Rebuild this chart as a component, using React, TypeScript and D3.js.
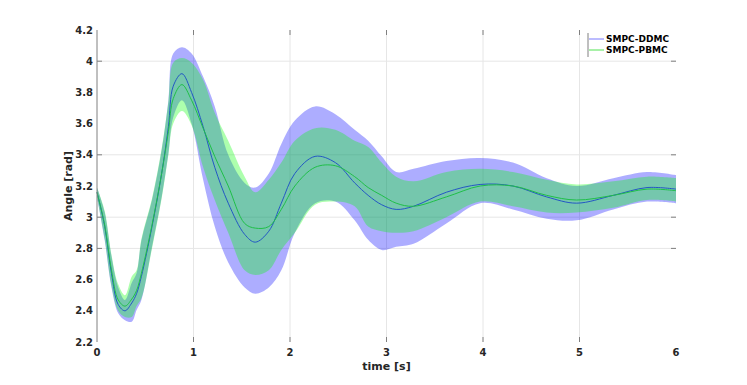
import * as d3 from "d3";

// sample times [s]
const times = [0, 0.08, 0.15, 0.22, 0.29, 0.36, 0.41, 0.46, 0.57, 0.67, 0.74, 0.79, 0.88, 0.98, 1.1, 1.22, 1.36, 1.53, 1.64, 1.78, 1.91, 2.05, 2.26, 2.47, 2.67, 2.81, 2.95, 3.1, 3.28, 3.62, 3.97, 4.31, 4.66, 4.97, 5.35, 5.7, 6.0];

// SMPC-DDMC
const ddmcMean = [3.16, 2.94, 2.64, 2.44, 2.4, 2.45, 2.51, 2.62, 2.94, 3.28, 3.58, 3.84, 3.92, 3.8, 3.58, 3.32, 3.09, 2.89, 2.84, 2.91, 3.09, 3.28, 3.39, 3.35, 3.22, 3.14, 3.08, 3.05, 3.07, 3.16, 3.21, 3.2, 3.13, 3.09, 3.14, 3.19, 3.18];
const ddmcUpper = [3.19, 3.03, 2.75, 2.55, 2.47, 2.58, 2.64, 2.85, 3.11, 3.43, 3.75, 4.05, 4.09, 4.05, 3.9, 3.71, 3.4, 3.22, 3.19, 3.28, 3.47, 3.62, 3.71, 3.66, 3.56, 3.49, 3.39, 3.29, 3.31, 3.36, 3.38, 3.35, 3.25, 3.2, 3.25, 3.29, 3.27];
const ddmcLower = [3.13, 2.85, 2.55, 2.385, 2.34, 2.33, 2.405, 2.47, 2.81, 3.13, 3.41, 3.64, 3.75, 3.6, 3.24, 2.94, 2.71, 2.55, 2.51, 2.55, 2.66, 2.9, 3.09, 3.1, 2.98, 2.855, 2.79, 2.81, 2.83, 2.96, 3.09, 3.05, 2.99, 2.98, 3.05, 3.1, 3.09];

// SMPC-PBMC
const pbmcMean = [3.16, 2.95, 2.66, 2.47, 2.43, 2.475, 2.53, 2.64, 2.95, 3.28, 3.55, 3.76, 3.85, 3.75, 3.57, 3.39, 3.2, 2.96, 2.93, 2.94, 3.05, 3.2, 3.32, 3.33, 3.26, 3.19, 3.14, 3.09, 3.07, 3.13, 3.2, 3.2, 3.14, 3.11, 3.14, 3.18, 3.17];
const pbmcUpper = [3.19, 3.04, 2.76, 2.57, 2.5, 2.62, 2.66, 2.86, 3.12, 3.44, 3.74, 3.99, 4.02, 3.99, 3.88, 3.67, 3.49, 3.26, 3.16, 3.24, 3.35, 3.49, 3.57, 3.56, 3.49, 3.45, 3.35, 3.26, 3.23, 3.29, 3.31, 3.29, 3.24, 3.21, 3.23, 3.26, 3.25];
const pbmcLower = [3.13, 2.86, 2.56, 2.4, 2.36, 2.36, 2.43, 2.48, 2.8, 3.12, 3.4, 3.6, 3.68, 3.59, 3.32, 3.11, 2.9, 2.66, 2.63, 2.66, 2.79, 2.9, 3.08, 3.1, 3.07, 2.94, 2.91, 2.9, 2.91, 3.0, 3.1, 3.07, 3.03, 3.03, 3.06, 3.11, 3.1];

const xTicks = [0, 1, 2, 3, 4, 5, 6];
const yTicks = [2.2, 2.4, 2.6, 2.8, 3, 3.2, 3.4, 3.6, 3.8, 4, 4.2];
const yGrid = [2.8, 3, 3.4, 4];
const legendNames = ["SMPC-DDMC", "SMPC-PBMC"];

const series = [
  { mean: ddmcMean, upper: ddmcUpper, lower: ddmcLower, fill: "#0000ff", line: "#2357c4", legend: "#8f8fff" },
  { mean: pbmcMean, upper: pbmcUpper, lower: pbmcLower, fill: "#00ff00", line: "#1fbf48", legend: "#6ee86e" },
];

export default function App() {
  const width = 747;
  const height = 385;
  const left = 97;
  const right = 676;
  const top = 30;
  const bottom = 342;
  const textColor = "#262626";
  const font = "DejaVu Sans, sans-serif";

  const x = d3.scaleLinear().domain([0, 6]).range([left, right]);
  const y = d3.scaleLinear().domain([2.2, 4.2]).range([bottom, top]);
  const curve = d3.curveCatmullRom.alpha(0.5);

  const band = (s) =>
    d3
      .area<number>()
      .x((_, i) => x(times[i]))
      .y0((_, i) => y(s.lower[i]))
      .y1((_, i) => y(s.upper[i]))
      .curve(curve)(s.mean);
  const meanLine = (s) =>
    d3
      .line<number>()
      .x((_, i) => x(times[i]))
      .y((d) => y(d))
      .curve(curve)(s.mean);

  return (
    <svg
      width={width}
      height={height}
      style={{ position: "absolute", left: 0, top: 0, background: "#fff" }}
      fontFamily={font}
    >
      {/* grid */}
      <g stroke="#e6e6e6" strokeWidth={1}>
        {xTicks.slice(1, -1).map((t) => (
          <line key={"gx" + t} x1={x(t)} x2={x(t)} y1={top} y2={bottom} />
        ))}
        {yGrid.map((v) => (
          <line key={"gy" + v} x1={left} x2={right} y1={y(v)} y2={y(v)} />
        ))}
      </g>

      {/* bands */}
      {series.map((s, i) => (
        <path key={"b" + i} d={band(s)} fill={s.fill} fillOpacity={0.32} stroke="none" />
      ))}
      {series.map((s, i) => (
        <path key={"m" + i} d={meanLine(s)} fill="none" stroke={s.line} strokeWidth={1} />
      ))}

      {/* axes */}
      <g stroke="#808080" strokeWidth={1}>
        <line x1={left} x2={left} y1={top} y2={bottom} />
        {xTicks.slice(1, -1).map((t) => (
          <g key={"tx" + t}>
            <line x1={x(t)} x2={x(t)} y1={bottom} y2={bottom - 5} />
            <line x1={x(t)} x2={x(t)} y1={top} y2={top + 5} />
          </g>
        ))}
        {yGrid.map((v) => (
          <g key={"ty" + v}>
            <line x1={left} x2={left + 5} y1={y(v)} y2={y(v)} />
            <line x1={right} x2={right - 5} y1={y(v)} y2={y(v)} />
          </g>
        ))}
      </g>

      {/* tick labels */}
      <g fill={textColor} fontSize={10} fontWeight="bold">
        {yTicks.map((v) => (
          <text key={"ly" + v} x={left - 4} y={y(v)} textAnchor="end" dominantBaseline="central">
            {d3.format("~g")(v)}
          </text>
        ))}
        {xTicks.map((t) => (
          <text key={"lx" + t} x={x(t)} y={bottom + 10} textAnchor="middle" dominantBaseline="central">
            {t}
          </text>
        ))}
      </g>

      {/* axis labels */}
      <text
        x={(left + right) / 2}
        y={bottom + 24}
        textAnchor="middle"
        dominantBaseline="central"
        fontSize={11}
        fontWeight="bold"
        fill={textColor}
      >
        time [s]
      </text>
      <text
        transform={`translate(68, ${(top + bottom) / 2}) rotate(-90)`}
        textAnchor="middle"
        dominantBaseline="central"
        fontSize={11}
        fontWeight="bold"
        fill={textColor}
      >
        Angle [rad]
      </text>

      {/* legend */}
      <g>
        <line x1={588} x2={588} y1={33} y2={57} stroke="#808080" />
        {legendNames.map((name, i) => (
          <g key={name} transform={`translate(589, ${39 + i * 11})`}>
            <line x1={0} x2={15} y1={0} y2={0} stroke={series[i].legend} strokeWidth={1.2} />
            <text x={17} y={0} dominantBaseline="central" fontSize={9} fontWeight="bold" fill="#000">
              {name}
            </text>
          </g>
        ))}
      </g>
    </svg>
  );
}
